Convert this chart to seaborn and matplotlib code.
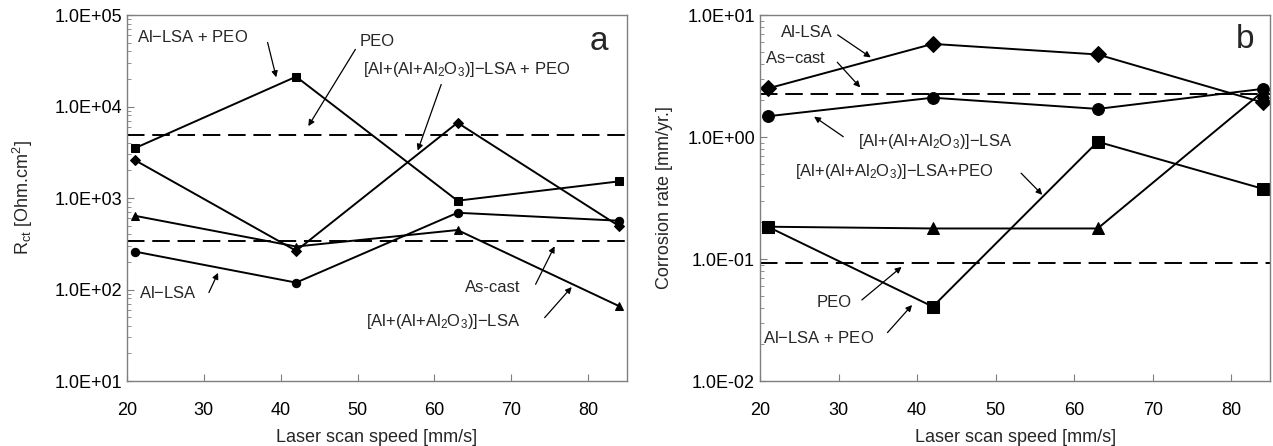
import matplotlib
matplotlib.use('Agg')
import matplotlib.pyplot as plt
import numpy as np
import pandas as pd
import seaborn as sns

# laser scan speed [mm/s]
speed = [21, 42, 63, 84]

# panel a: Rct [Ohm.cm2]
rct_al_lsa_peo = [3500, 21200, 935, 1520]        # squares
rct_mix_lsa_peo = [2600, 265, 6650, 495]         # diamonds
rct_mix_lsa = [640, 295, 447, 66]                # triangles
rct_al_lsa = [260, 119, 690, 565]                # circles
rct_peo = 4900
rct_ascast = 342

# panel b: corrosion rate [mm/yr]
cr_al_lsa = [2.5, 5.8, 4.75, 1.92]               # diamonds
cr_mix_lsa = [1.48, 2.1, 1.7, 2.48]              # circles
cr_al_lsa_peo = [0.184, 0.0407, 0.915, 0.377]    # squares
cr_mix_lsa_peo = [0.184, 0.178, 0.178, 2.35]     # triangles
cr_peo = 0.092
cr_ascast = 2.25

MIX = r'[Al+(Al+Al$_2$O$_3$)]$-$LSA'
SPINE = '#7f7f7f'
DASH = (0, (9, 4))

sns.set_style('white')
plt.rcParams['font.family'] = ['Liberation Sans', 'DejaVu Sans']
plt.rcParams['mathtext.fontset'] = 'custom'
plt.rcParams['mathtext.rm'] = 'Liberation Sans'
plt.rcParams['mathtext.it'] = 'Liberation Sans'

fig = plt.figure(figsize=(12.73, 4.46), dpi=100)
ax_a = fig.add_axes([0.0998, 0.1457, 0.3924, 0.8206])
ax_b = fig.add_axes([0.597, 0.1457, 0.401, 0.8206])

arrow = dict(arrowstyle='-|>', color='black', lw=0.9, mutation_scale=9)


def draw(ax, values, marker, ms):
    df = pd.DataFrame({'speed': speed, 'value': values})
    sns.lineplot(data=df, x='speed', y='value', ax=ax, color='black',
                 marker=marker, markersize=ms, linewidth=1.4,
                 markeredgecolor='black', markerfacecolor='black')


def style_axis(ax, ylim, ylabel, ypad):
    ax.set_yscale('log')
    ax.set_xlim(20, 85)
    ax.set_ylim(*ylim)
    ax.set_xticks([20, 30, 40, 50, 60, 70, 80])
    ax.yaxis.set_major_formatter(matplotlib.ticker.FuncFormatter(lambda v, p: f'{v:.1E}'))
    ax.yaxis.set_minor_formatter(matplotlib.ticker.NullFormatter())
    ax.tick_params(which='both', direction='in', colors=SPINE, labelcolor='black',
                   labelsize=13, left=True, bottom=True, top=False, right=False)
    ax.tick_params(which='major', length=5)
    ax.tick_params(axis='y', which='minor', length=3)
    ax.tick_params(axis='x', pad=15)
    for s in ax.spines.values():
        s.set_color(SPINE)
        s.set_linewidth(1.0)
    ax.set_xlabel('Laser scan speed [mm/s]', fontsize=13, labelpad=7)
    ax.set_ylabel(ylabel, fontsize=13, labelpad=ypad)


def label(ax, text, x, logy, size=12, ha='left'):
    ax.text(x, 10 ** logy, text, fontsize=size, ha=ha, va='center')


def pointer(ax, start, end):
    ax.annotate('', xy=(end[0], 10 ** end[1]), xytext=(start[0], 10 ** start[1]),
                arrowprops=arrow)


# ---- panel a ----
draw(ax_a, rct_al_lsa_peo, 's', 5.5)
draw(ax_a, rct_mix_lsa_peo, 'D', 5.5)
draw(ax_a, rct_mix_lsa, '^', 5.5)
draw(ax_a, rct_al_lsa, 'o', 6)
ax_a.axhline(rct_peo, color='black', lw=1.4, ls=DASH)
ax_a.axhline(rct_ascast, color='black', lw=1.4, ls=DASH)
style_axis(ax_a, (10, 1e5), r'R$_{\rm ct}$ [Ohm.cm$^2$]', 14)

label(ax_a, r'Al$-$LSA + PEO', 21.3, 4.76)
pointer(ax_a, (38.2, 4.73), (39.5, 4.29))
label(ax_a, 'PEO', 50.2, 4.71)
pointer(ax_a, (49.9, 4.65), (43.4, 3.76))
label(ax_a, MIX + ' + PEO', 50.7, 4.40)
pointer(ax_a, (61.0, 4.27), (57.7, 3.49))
label(ax_a, r'Al$-$LSA', 21.5, 1.96)
pointer(ax_a, (30.5, 1.94), (32.0, 2.21))
label(ax_a, 'As-cast', 64.0, 2.02)
pointer(ax_a, (73.0, 2.03), (75.8, 2.50))
label(ax_a, MIX, 51.1, 1.65)
pointer(ax_a, (74.1, 1.67), (78.1, 2.05))
label(ax_a, 'a', 82.6, 4.71, size=24, ha='right')

# ---- panel b ----
draw(ax_b, cr_al_lsa, 'D', 8)
draw(ax_b, cr_mix_lsa, 'o', 8.5)
draw(ax_b, cr_mix_lsa_peo, '^', 8.5)
draw(ax_b, cr_al_lsa_peo, 's', 8)
ax_b.axhline(cr_peo, color='black', lw=1.4, ls=DASH)
ax_b.axhline(cr_ascast, color='black', lw=1.4, ls=DASH)
style_axis(ax_b, (0.01, 10), 'Corrosion rate [mm/yr.]', 10)

label(ax_b, 'Al-LSA', 22.7, 0.86)
pointer(ax_b, (29.6, 0.85), (34.4, 0.64))
label(ax_b, r'As$-$cast', 20.6, 0.65)
pointer(ax_b, (29.6, 0.63), (33.0, 0.39))
label(ax_b, MIX, 32.5, -0.04)
pointer(ax_b, (30.9, -0.01), (26.6, 0.18))
label(ax_b, MIX + '+PEO', 24.5, -0.28)
pointer(ax_b, (53.0, -0.28), (56.2, -0.49))
label(ax_b, 'PEO', 27.2, -1.36)
pointer(ax_b, (32.7, -1.35), (38.3, -1.05))
label(ax_b, r'Al$-$LSA + PEO', 20.4, -1.65)
pointer(ax_b, (36.0, -1.62), (39.6, -1.36))
label(ax_b, 'b', 83.0, 0.80, size=24, ha='right')

fig.savefig('out.png', dpi=100)
